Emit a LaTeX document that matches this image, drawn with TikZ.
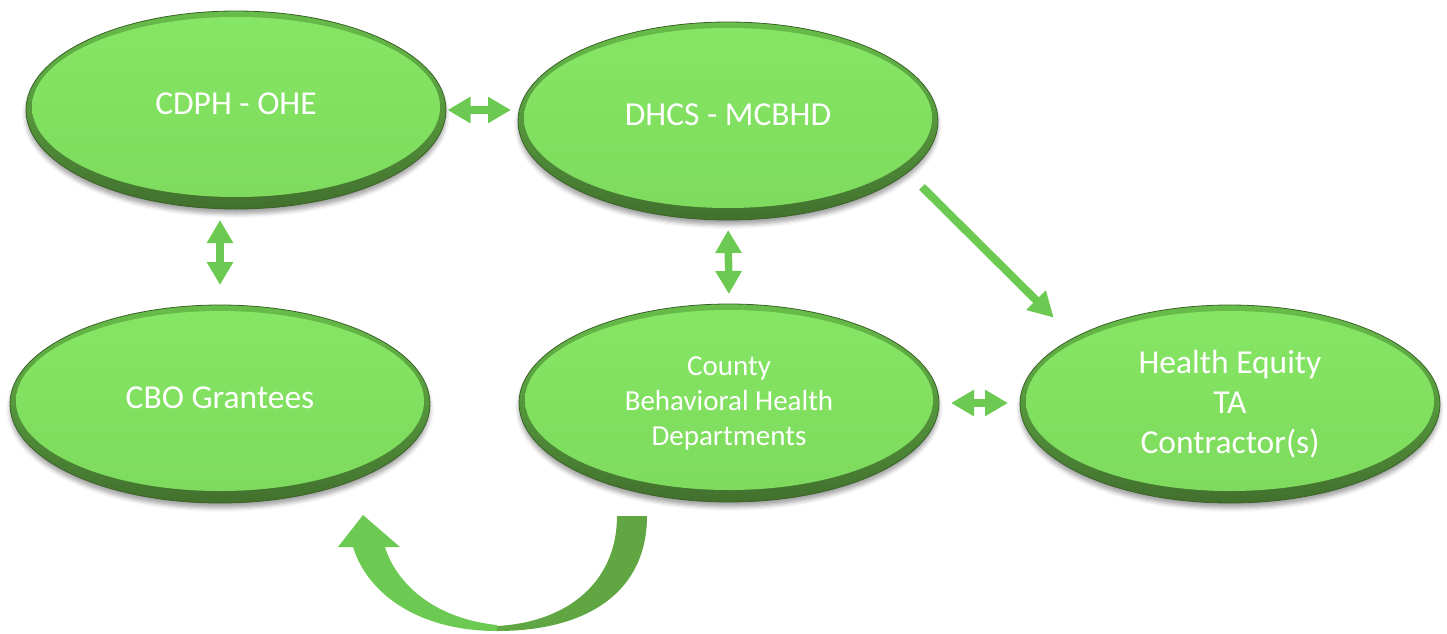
\documentclass[tikz,border=0pt]{standalone}
\usepackage{fontspec}
\setmainfont{Carlito}
\usetikzlibrary{shapes.geometric, arrows.meta, shadows.blur}
\definecolor{facegreen}{RGB}{125,218,93}
\definecolor{facetop}{RGB}{134,230,100}
\definecolor{rimtop}{RGB}{104,190,74}
\definecolor{rimbottom}{RGB}{66,112,46}
\definecolor{rimline}{RGB}{58,98,40}
\definecolor{arrowgreen}{RGB}{108,202,82}
\definecolor{loopdark}{RGB}{96,166,66}

\tikzset{
    agency/.style={ellipse, minimum width=420pt, minimum height=198pt, inner sep=0pt, outer sep=0pt,
        draw=rimline, line width=0.8pt, top color=rimtop, bottom color=rimbottom,
        blur shadow={shadow xshift=0pt, shadow yshift=-5pt, shadow blur radius=4pt, shadow opacity=35},
        path picture={\shade[top color=facetop, bottom color=facegreen]
            ([yshift=3pt]path picture bounding box.center) ellipse [x radius=204pt, y radius=90pt];},
        text=white, align=center, font=\fontsize{33.5}{40}\selectfont},
    oneline/.style={text depth=12pt},
    link/.style={draw=arrowgreen, line width=7.5pt,
        {Triangle[width=25pt,length=23pt]}-{Triangle[width=25pt,length=23pt]}},
    feed/.style={draw=arrowgreen, line width=8pt, -{Triangle[width=26pt,length=25pt]}}
}

\begin{document}
\begin{tikzpicture}[x=1pt, y=-1pt]
    \useasboundingbox (0,0) rectangle (1447,633);

    \node[agency, oneline] (cdph) at (236,110) {CDPH - OHE};
    \node[agency, oneline] (dhcs) at (728,121) {DHCS - MCBHD};
    \node[agency, oneline] (cbo) at (220,404) {CBO Grantees};
    \node[agency, font=\fontsize{29}{35}\selectfont] (county) at (729,403) {County\\Behavioral Health\\Departments};
    \node[agency] (healtheq) at (1230,404) {Health Equity\\TA\\Contractor(s)};

    \draw[link, shorten <=1.5pt, shorten >=7pt] (cdph.east) -- (cdph.east -| dhcs.west);
    \draw[link, shorten <=11pt, shorten >=20pt] (cdph.south -| cbo.north) -- (cbo.north);
    \draw[link, shorten <=10pt, shorten >=10pt] (dhcs.south) -- (county.north);
    \draw[link, shorten <=12pt, shorten >=12pt] (county.east) -- (county.east -| healtheq.west);
    \draw[feed, shorten <=20.5pt, shorten >=28.5pt] (dhcs.-16) -- (healtheq.157);

    \fill[loopdark] (617,516) -- (647,516) .. controls (647,590) and (590,631) .. (497,631)
        -- (497,626) .. controls (570,622) and (617,580) .. (617,516) -- cycle;
    \fill[arrowgreen] (497,631) .. controls (420,631) and (368,595) .. (353,547)
        -- (338,547) -- (363,515) -- (400,547) -- (385,547)
        .. controls (395,580) and (430,618) .. (497,625) -- cycle;
\end{tikzpicture}
\end{document}
